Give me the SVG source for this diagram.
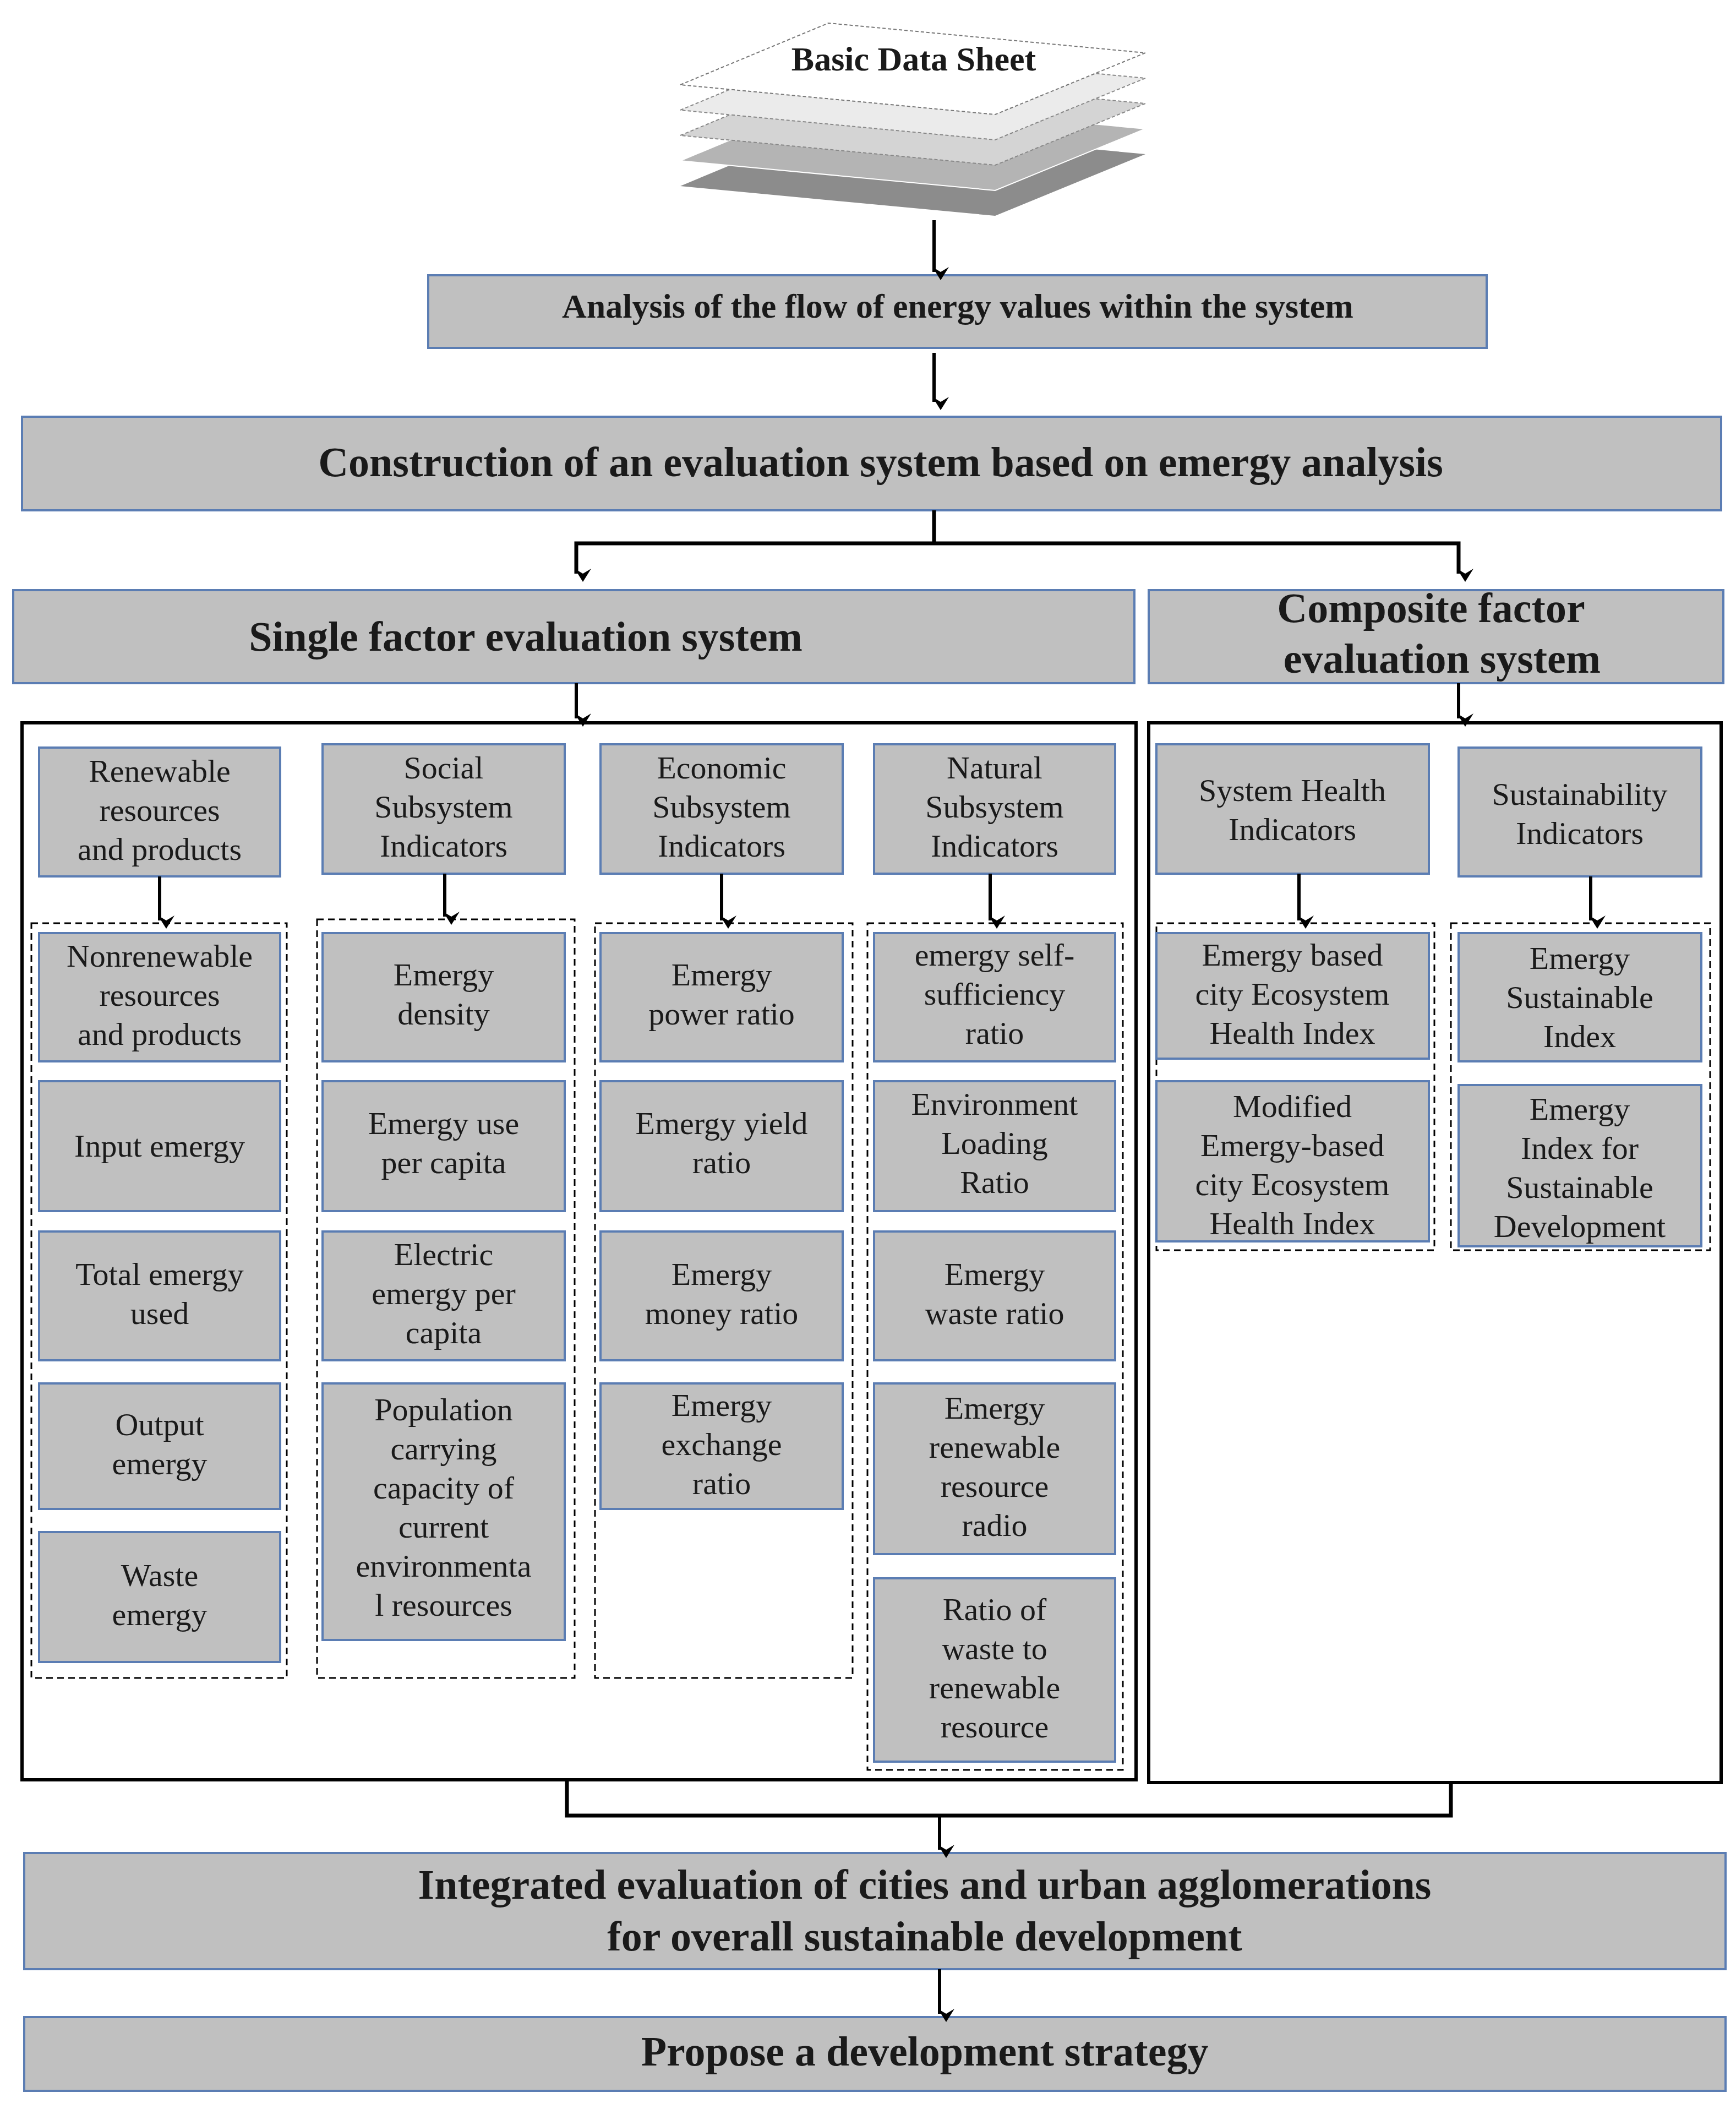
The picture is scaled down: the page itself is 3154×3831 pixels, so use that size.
<svg xmlns="http://www.w3.org/2000/svg" width="3154" height="3831" viewBox="0 0 3154 3831">
<style>
.b{fill:#c0c0c0;stroke:#5b7db3;stroke-width:4}
.t{font-family:"Liberation Serif",serif;font-size:58px;fill:#1a1a1a;text-anchor:middle}
.h{font-family:"Liberation Serif",serif;font-weight:bold;fill:#1a1a1a;text-anchor:middle}
.c{fill:none;stroke:#000;stroke-width:6}
.d{fill:none;stroke:#000;stroke-width:3;stroke-dasharray:12 8}
.l{fill:none;stroke:#000;stroke-width:7}
.a{fill:none;stroke:#000;stroke-width:6;marker-end:url(#ar)}
</style>
<defs>
<marker id="ar" viewBox="0 0 10 10" refX="5" refY="9" markerWidth="5" markerHeight="5" markerUnits="strokeWidth" orient="auto-start-reverse">
<path d="M0,2 L5,10 L10,2 L5,5 Z" fill="#000" transform="rotate(-90 5 5)"/>
</marker>
</defs>
<rect width="3154" height="3831" fill="#fff"/>
<g id="sheets">
<polygon points="1236,338 1505,226 2081,280 1808,392" fill="#8c8c8c"/>
<polygon points="1236,292 1505,180 2081,234 1808,346" fill="#b4b4b4" stroke="#fff" stroke-width="2"/>
<polygon points="1236,246 1505,134 2081,188 1808,300" fill="#d4d4d4" stroke="#888" stroke-width="2" stroke-dasharray="6 4"/>
<polygon points="1236,200 1505,88 2081,142 1808,254" fill="#ebebeb" stroke="#888" stroke-width="2" stroke-dasharray="6 4"/>
<polygon points="1236,154 1505,42 2081,96 1808,208" fill="#fff" stroke="#777" stroke-width="2" stroke-dasharray="6 4"/>
<text x="1660" y="128" class="h" font-size="62">Basic  Data Sheet</text>
</g>
<g id="analysis"><rect class="b" x="778" y="500" width="1923" height="132"/><text x="1740" y="577" class="h" font-size="62">Analysis of the flow of  energy values  within the system</text></g>
<g id="construction"><rect class="b" x="40" y="757" width="3087" height="170"/><text x="1600" y="865" class="h" font-size="76">Construction of an evaluation system based on emergy analysis</text></g>
<g id="single"><rect class="b" x="24" y="1072" width="2037" height="169"/><text x="955" y="1182" class="h" font-size="76">Single factor evaluation system</text></g>
<g id="composite"><rect class="b" x="2087" y="1072" width="1044" height="169"/><text x="2600" y="1130" class="h" font-size="76">Composite factor</text><text x="2620" y="1222" class="h" font-size="76">evaluation system</text></g>
<g id="containers">
<rect class="c" x="40" y="1313" width="2024" height="1920"/>
<rect class="c" x="2087" y="1313" width="1040" height="1925"/>
<rect class="d" x="57" y="1677" width="464" height="1371"/>
<rect class="d" x="576" y="1670" width="468" height="1378"/>
<rect class="d" x="1081" y="1677" width="468" height="1371"/>
<rect class="d" x="1576" y="1677" width="464" height="1538"/>
<rect class="d" x="2101" y="1677" width="505" height="594"/>
<rect class="d" x="2636" y="1677" width="471" height="594"/>
</g>
<g id="col1">
<rect class="b" x="71" y="1358" width="438" height="234"/><text class="t" x="290" y="1420">Renewable</text><text class="t" x="290" y="1491">resources</text><text class="t" x="290" y="1562">and products</text>
<rect class="b" x="71" y="1695" width="438" height="233"/><text class="t" x="290" y="1756">Nonrenewable</text><text class="t" x="290" y="1827">resources</text><text class="t" x="290" y="1898">and products</text>
<rect class="b" x="71" y="1964" width="438" height="236"/><text class="t" x="290" y="2101">Input emergy</text>
<rect class="b" x="71" y="2237" width="438" height="234"/><text class="t" x="290" y="2334">Total emergy</text><text class="t" x="290" y="2405">used</text>
<rect class="b" x="71" y="2513" width="438" height="228"/><text class="t" x="290" y="2607">Output</text><text class="t" x="290" y="2678">emergy</text>
<rect class="b" x="71" y="2783" width="438" height="236"/><text class="t" x="290" y="2881">Waste</text><text class="t" x="290" y="2952">emergy</text>
</g>
<g id="col2">
<rect class="b" x="586" y="1352" width="440" height="235"/><text class="t" x="806" y="1414">Social</text><text class="t" x="806" y="1485">Subsystem</text><text class="t" x="806" y="1556">Indicators</text>
<rect class="b" x="586" y="1695" width="440" height="233"/><text class="t" x="806" y="1790">Emergy</text><text class="t" x="806" y="1861">density</text>
<rect class="b" x="586" y="1964" width="440" height="236"/><text class="t" x="806" y="2060">Emergy use</text><text class="t" x="806" y="2131">per capita</text>
<rect class="b" x="586" y="2237" width="440" height="234"/><text class="t" x="806" y="2298">Electric</text><text class="t" x="806" y="2369">emergy per</text><text class="t" x="806" y="2440">capita</text>
<rect class="b" x="586" y="2513" width="440" height="466"/><text class="t" x="806" y="2580">Population</text><text class="t" x="806" y="2651">carrying</text><text class="t" x="806" y="2722">capacity of</text><text class="t" x="806" y="2793">current</text><text class="t" x="806" y="2864">environmenta</text><text class="t" x="806" y="2935">l resources</text>
</g>
<g id="col3">
<rect class="b" x="1091" y="1352" width="440" height="235"/><text class="t" x="1311" y="1414">Economic</text><text class="t" x="1311" y="1485">Subsystem</text><text class="t" x="1311" y="1556">Indicators</text>
<rect class="b" x="1091" y="1695" width="440" height="233"/><text class="t" x="1311" y="1790">Emergy</text><text class="t" x="1311" y="1861">power ratio</text>
<rect class="b" x="1091" y="1964" width="440" height="236"/><text class="t" x="1311" y="2060">Emergy yield</text><text class="t" x="1311" y="2131">ratio</text>
<rect class="b" x="1091" y="2237" width="440" height="234"/><text class="t" x="1311" y="2334">Emergy</text><text class="t" x="1311" y="2405">money ratio</text>
<rect class="b" x="1091" y="2513" width="440" height="228"/><text class="t" x="1311" y="2572">Emergy</text><text class="t" x="1311" y="2643">exchange</text><text class="t" x="1311" y="2714">ratio</text>
</g>
<g id="col4">
<rect class="b" x="1588" y="1352" width="438" height="235"/><text class="t" x="1807" y="1414">Natural</text><text class="t" x="1807" y="1485">Subsystem</text><text class="t" x="1807" y="1556">Indicators</text>
<rect class="b" x="1588" y="1695" width="438" height="233"/><text class="t" x="1807" y="1754">emergy self-</text><text class="t" x="1807" y="1825">sufficiency</text><text class="t" x="1807" y="1896">ratio</text>
<rect class="b" x="1588" y="1964" width="438" height="236"/><text class="t" x="1807" y="2025">Environment</text><text class="t" x="1807" y="2096">Loading</text><text class="t" x="1807" y="2167">Ratio</text>
<rect class="b" x="1588" y="2237" width="438" height="234"/><text class="t" x="1807" y="2334">Emergy</text><text class="t" x="1807" y="2405">waste ratio</text>
<rect class="b" x="1588" y="2513" width="438" height="310"/><text class="t" x="1807" y="2577">Emergy</text><text class="t" x="1807" y="2648">renewable</text><text class="t" x="1807" y="2719">resource</text><text class="t" x="1807" y="2790">radio</text>
<rect class="b" x="1588" y="2867" width="438" height="333"/><text class="t" x="1807" y="2943">Ratio of</text><text class="t" x="1807" y="3014">waste to</text><text class="t" x="1807" y="3085">renewable</text><text class="t" x="1807" y="3156">resource</text>
</g>
<g id="col5">
<rect class="b" x="2101" y="1352" width="495" height="235"/><text class="t" x="2348" y="1455">System Health</text><text class="t" x="2348" y="1526">Indicators</text>
<rect class="b" x="2101" y="1695" width="495" height="228"/><text class="t" x="2348" y="1754">Emergy based</text><text class="t" x="2348" y="1825">city Ecosystem</text><text class="t" x="2348" y="1896">Health Index</text>
<rect class="b" x="2101" y="1964" width="495" height="291"/><text class="t" x="2348" y="2029">Modified</text><text class="t" x="2348" y="2100">Emergy-based</text><text class="t" x="2348" y="2171">city Ecosystem</text><text class="t" x="2348" y="2242">Health Index</text>
</g>
<g id="col6">
<rect class="b" x="2650" y="1358" width="441" height="234"/><text class="t" x="2870" y="1462">Sustainability</text><text class="t" x="2870" y="1533">Indicators</text>
<rect class="b" x="2650" y="1695" width="441" height="233"/><text class="t" x="2870" y="1760">Emergy</text><text class="t" x="2870" y="1831">Sustainable</text><text class="t" x="2870" y="1902">Index</text>
<rect class="b" x="2650" y="1971" width="441" height="293"/><text class="t" x="2870" y="2034">Emergy</text><text class="t" x="2870" y="2105">Index for</text><text class="t" x="2870" y="2176">Sustainable</text><text class="t" x="2870" y="2247">Development</text>
</g>
<g id="integrated"><rect class="b" x="44" y="3366" width="3091" height="211"/><text x="1680" y="3449" class="h" font-size="76">Integrated evaluation of cities and urban agglomerations</text><text x="1680" y="3543" class="h" font-size="76">for overall sustainable development</text></g>
<g id="propose"><rect class="b" x="44" y="3664" width="3091" height="134"/><text x="1680" y="3752" class="h" font-size="76">Propose a development strategy</text></g>
<g id="connectors">
<line class="a" x1="1697" y1="400" x2="1697" y2="494"/>
<line class="a" x1="1697" y1="641" x2="1697" y2="730"/>
<line class="l" x1="1697" y1="927" x2="1697" y2="987"/>
<polyline class="l" points="1047,1042 1047,987 2650,987 2650,1042"/>
<line class="a" x1="1047" y1="987" x2="1047" y2="1042"/>
<line class="a" x1="2650" y1="987" x2="2650" y2="1042"/>
<line class="a" x1="1047" y1="1241" x2="1047" y2="1305"/>
<line class="a" x1="2650" y1="1241" x2="2650" y2="1305"/>
<line class="a" x1="290" y1="1592" x2="290" y2="1672"/>
<line class="a" x1="808" y1="1587" x2="808" y2="1665"/>
<line class="a" x1="1311" y1="1587" x2="1311" y2="1672"/>
<line class="a" x1="1799" y1="1587" x2="1799" y2="1672"/>
<line class="a" x1="2360" y1="1587" x2="2360" y2="1672"/>
<line class="a" x1="2890" y1="1592" x2="2890" y2="1672"/>
<polyline class="l" points="1030,3233 1030,3298 2636,3298 2636,3238"/>
<line class="a" x1="1707" y1="3298" x2="1707" y2="3360"/>
<line class="a" x1="1707" y1="3577" x2="1707" y2="3658"/>
</g>
</svg>
